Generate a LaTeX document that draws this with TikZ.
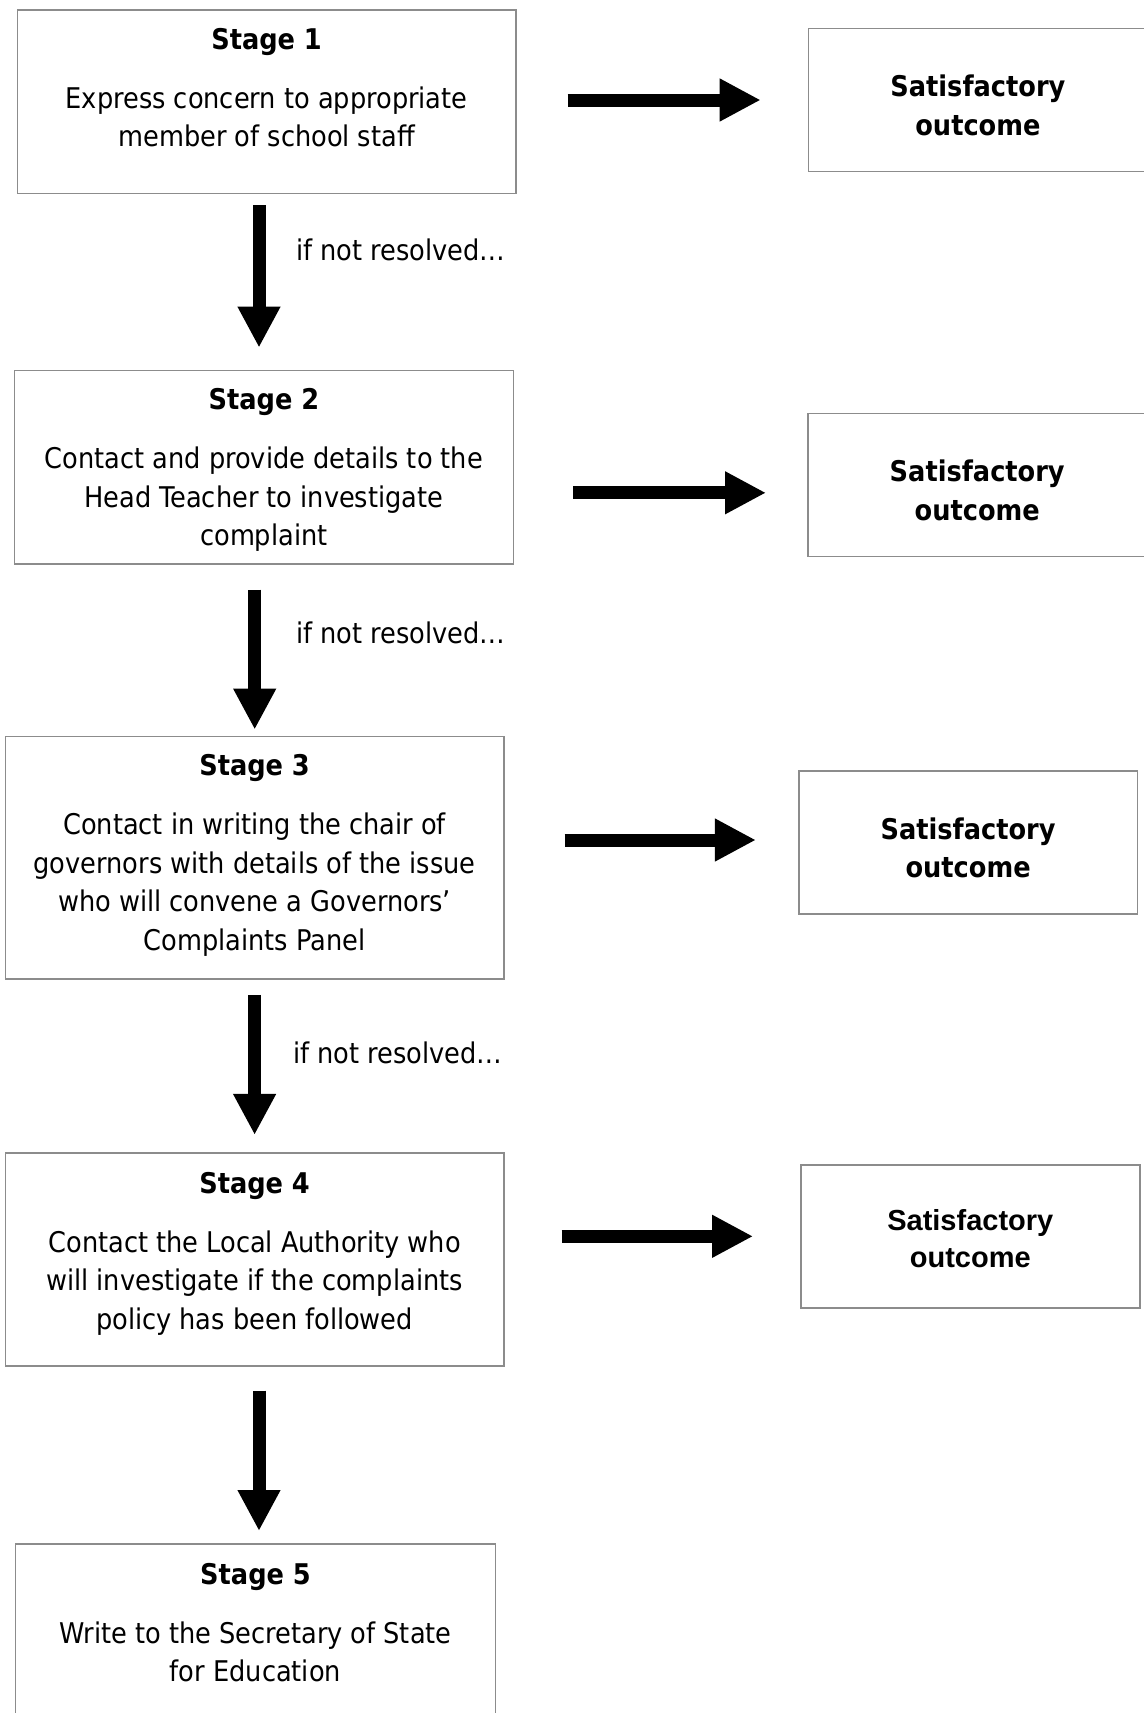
\documentclass[tikz,border=0pt]{standalone}
\usepackage{fontspec}
\setmainfont{DejaVu Sans Condensed}
\newfontfamily\arialfont{Liberation Sans}
\usetikzlibrary{arrows.meta, positioning}
\tikzset{%
    stagebox/.style={rectangle, draw=black!45, line width=0.8pt, inner sep=0pt},
    stagetxt/.style={align=center, inner sep=0pt, font=\fontsize{14.25}{19.2}\selectfont},
    outbox/.style={rectangle, draw=black!45, line width=0.8pt, inner sep=0pt,
        minimum width=169.4pt, minimum height=71.5pt},
    outtxt/.style={align=center, inner sep=0pt, font=\fontsize{14.25}{19.2}\selectfont\bfseries},
    flowa/.style={line width=6.5pt, -{Triangle[length=20.5pt, width=20pt]}},
    note/.style={anchor=west, inner sep=0pt, font=\fontsize{14.25}{19.2}\selectfont},
}
\begin{document}
\begin{tikzpicture}[x=0.5pt, y=-0.5pt]
    \clip (0,0) rectangle (1144,1713);
    % stages
    \node [stagebox, minimum width=249.1pt, minimum height=91.8pt] (s1) at (266.6,101.6){};
    \node [stagebox, minimum width=249.6pt, minimum height=96.7pt] (s2) at (263.9,467.1){};
    \node [stagebox, minimum width=249.1pt, minimum height=121.3pt] (s3) at (254.6,857.7){};
    \node [stagebox, minimum width=249.1pt, minimum height=106.6pt] (s4) at (254.6,1259.3){};
    \node [stagebox, minimum width=240pt, minimum height=98pt] (s5) at (255.5,1641.8){};
    \node [stagetxt, below=9.4pt of s1.north] (t1){\textbf{Stage 1}\\[10.3pt]Express concern to appropriate\\member of school staff};
    \node [stagetxt, below=9.4pt of s2.north] (t2){\textbf{Stage 2}\\[10.3pt]Contact and provide details to the\\Head Teacher to investigate\\complaint};
    \node [stagetxt, below=9.4pt of s3.north] (t3){\textbf{Stage 3}\\[10.3pt]Contact in writing the chair of\\governors with details of the issue\\who will convene a Governors’\\Complaints Panel};
    \node [stagetxt, below=9.9pt of s4.north] (t4){\textbf{Stage 4}\\[10.3pt]Contact the Local Authority who\\will investigate if the complaints\\policy has been followed};
    \node [stagetxt, below=9.9pt of s5.north] (t5){\textbf{Stage 5}\\[10.3pt]Write to the Secretary of State\\for Education};
    % outcomes
    \node [outbox] (o1) at (977.9,100){};
    \node [outbox] (o2) at (977.2,485){};
    \node [outbox] (o3) at (968.1,842.4){};
    \node [outbox] (o4) at (970.3,1236.3){};
    \node [outtxt, yshift=-2.75pt] (u1) at (o1){Satisfactory\\outcome};
    \node [outtxt, yshift=-2.75pt] (u2) at (o2){Satisfactory\\outcome};
    \node [outtxt, yshift=-2.75pt] (u3) at (o3){Satisfactory\\outcome};
    \node [outtxt, yshift=-1.25pt, font=\fontsize{14.5}{18.8}\selectfont\arialfont\bfseries] (u4) at (o4){Satisfactory\\outcome};
    % arrows
    \draw [flowa, shorten <=25.5pt, shorten >=23.5pt](s1.east |- o1.west) -- (o1.west);
    \draw [flowa, shorten <=29.5pt, shorten >=20.5pt]([yshift=-3.9pt]s2.east |- o2.west) -- ([yshift=-3.9pt]o2.west);
    \draw [flowa, shorten <=30pt, shorten >=21pt]([yshift=1.2pt]s3.east |- o3.west) -- ([yshift=1.2pt]o3.west);
    \draw [flowa, shorten <=28.5pt, shorten >=23.5pt](s4.east |- o4.west) -- (o4.west);
    \draw [flowa, shorten <=5.5pt, shorten >=11pt]([xshift=-3.8pt]s1.south) -- ([xshift=-3.8pt]s1.south |- s2.north);
    \draw [flowa, shorten <=12.5pt, shorten >=3pt]([xshift=-4.6pt]s2.south) -- ([xshift=-4.6pt]s2.south |- s3.north);
    \draw [flowa, shorten <=7.5pt, shorten >=8.5pt](s3.south) -- (s3.south |- s4.north);
    \draw [flowa, shorten <=12pt, shorten >=6pt]([xshift=2.2pt]s4.south) -- ([xshift=2.2pt]s4.south |- s5.north);
    \node [note] (n1) at (296,250){if not resolved…};
    \node [note] (n2) at (296,632.6){if not resolved…};
    \node [note] (n3) at (293,1053){if not resolved…};
\end{tikzpicture}
\end{document}
